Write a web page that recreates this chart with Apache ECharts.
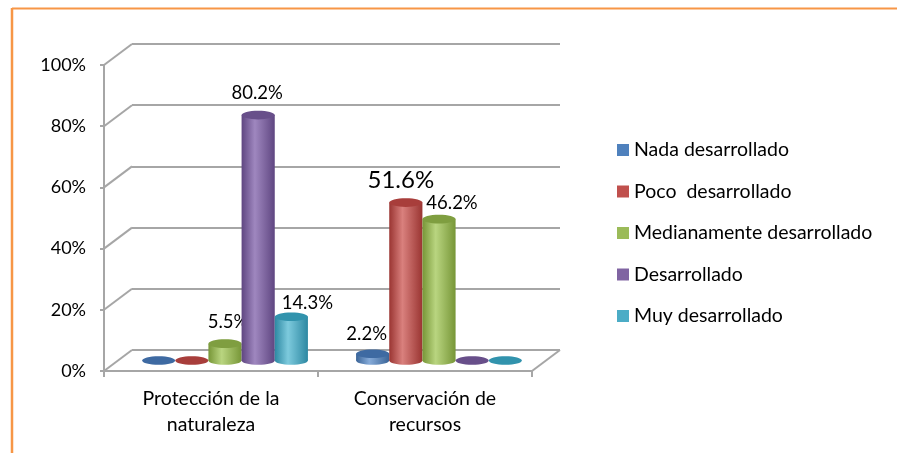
<!DOCTYPE html>
<html>
<head>
<meta charset="utf-8">
<title>Protección de la naturaleza / Conservación de recursos</title>
<script src="https://cdn.jsdelivr.net/npm/echarts@6/dist/echarts.min.js"></script>
<style>
  html, body { margin: 0; padding: 0; background: #fff; }
  #chart { width: 897px; height: 453px; }
</style>
</head>
<body>
<div id="chart"></div>
<script>
// datos
var categories = ['Protección de la\nnaturaleza', 'Conservación de\nrecursos'];
var seriesNames = ['Nada desarrollado', 'Poco  desarrollado', 'Medianamente desarrollado', 'Desarrollado', 'Muy desarrollado'];
var nada = [0, 2.2];
var poco = [0, 51.6];
var mediana = [5.5, 46.2];
var desarrollado = [80.2, 0];
var muy = [14.3, 0];
var yTicks = [0, 20, 40, 60, 80, 100];

var seriesValues = [nada, poco, mediana, desarrollado, muy];

// colores estilo Office 2007
var palette = [
  { base: '#4f81bd', light: '#86abd9', dark: '#3a6497', top: '#3e6aa2' },
  { base: '#c0504d', light: '#d9807d', dark: '#9a3532', top: '#a83e3b' },
  { base: '#9bbb59', light: '#b9d580', dark: '#779637', top: '#7f9e40' },
  { base: '#8064a2', light: '#9f87bf', dark: '#5f4681', top: '#684f8a' },
  { base: '#4bacc6', light: '#7dcadd', dark: '#2d88a2', top: '#3193ad' }
];

// desplazamiento de las etiquetas [dx, dy, tamaño]
var labelNudge = {
  '0-1': [-6, -20, 18.5],
  '1-1': [-5, -22, 24],
  '2-0': [3, -22, 18.5],
  '2-1': [13, -16, 18.5],
  '3-0': [-1, -22, 18.5],
  '4-0': [16, -14, 18.5]
};

var FONT = 'Lato, "Noto Sans", sans-serif';
var GRID_COLOR = '#a6a6a6';
var front = { left: 104, top: 65, right: 365, bottom: 82 };
var depth = [28, -21];

function shift(g, k) {
  return {
    left: g.left + depth[0] * k,
    right: g.right - depth[0] * k,
    top: g.top + depth[1] * k,
    bottom: g.bottom - depth[1] * k
  };
}

function cylinder(si) {
  return function (params, api) {
    var v = api.value(1);
    var base = api.coord([api.value(0), 0]);
    var top = api.coord([api.value(0), v]);
    var w = api.size([1, 0])[0] * 0.155;
    var cx = base[0] + (si - 2) * w;
    var rx = w / 2, ry = w * 0.13;
    var c = palette[si];
    var kids = [];
    if (v <= 0) {
      kids.push({ type: 'ellipse', shape: { cx: cx, cy: base[1], rx: rx, ry: ry }, style: { fill: c.top } });
      return { type: 'group', children: kids };
    }
    var grad = new echarts.graphic.LinearGradient(0, 0, 1, 0, [
      { offset: 0, color: c.dark },
      { offset: 0.4, color: c.light },
      { offset: 1, color: c.dark }
    ]);
    kids.push({ type: 'ellipse', shape: { cx: cx, cy: base[1], rx: rx, ry: ry }, style: { fill: grad } });
    kids.push({ type: 'rect', shape: { x: cx - rx, y: top[1], width: w, height: base[1] - top[1] }, style: { fill: grad } });
    kids.push({ type: 'ellipse', shape: { cx: cx, cy: top[1], rx: rx, ry: ry }, style: { fill: c.top } });
    var n = labelNudge[si + '-' + params.dataIndex] || [0, -20, 18];
    kids.push({
      type: 'text',
      x: cx + n[0],
      y: top[1] + n[1],
      style: {
        text: v.toFixed(1) + '%',
        fill: '#000',
        fontSize: n[2],
        fontFamily: FONT,
        align: 'center',
        verticalAlign: 'middle'
      }
    });
    return { type: 'group', children: kids };
  };
}

var myChart = echarts.init(document.getElementById('chart'));

var series = [{
  type: 'custom',
  xAxisIndex: 1,
  yAxisIndex: 1,
  silent: true,
  data: yTicks.map(function (t) { return [0, t]; }).concat([[1, 0]]),
  renderItem: function (params, api) {
    var p = api.coord([api.value(0), api.value(1)]);
    return {
      type: 'line',
      shape: { x1: p[0], y1: p[1], x2: p[0] - depth[0], y2: p[1] - depth[1] },
      style: { stroke: GRID_COLOR, lineWidth: 2 }
    };
  }
}];

seriesNames.forEach(function (name, i) {
  series.push({
    name: name,
    type: 'custom',
    xAxisIndex: 2,
    yAxisIndex: 2,
    itemStyle: { color: palette[i].base },
    encode: { x: 0, y: 1 },
    data: seriesValues[i].map(function (v, k) { return [k, v]; }),
    renderItem: cylinder(i)
  });
});

var option = {
  animation: false,
  textStyle: { fontFamily: FONT },
  grid: [front, shift(front, 1), shift(front, 0.5)],
  graphic: [
    { type: 'line', shape: { x1: 12, y1: 8.5, x2: 897, y2: 8.5 }, style: { stroke: '#f79646', lineWidth: 2 } },
    { type: 'line', shape: { x1: 12, y1: 8, x2: 12, y2: 453 }, style: { stroke: '#f79646', lineWidth: 2.5 } }
  ],
  legend: {
    orient: 'vertical',
    left: 612,
    top: 135,
    itemWidth: 12,
    itemHeight: 12,
    itemGap: 21.5,
    icon: 'rect',
    data: seriesNames,
    textStyle: { fontSize: 19.5, color: '#000', fontFamily: FONT }
  },
  xAxis: [{
    gridIndex: 0,
    type: 'category',
    data: categories,
    axisLine: { lineStyle: { color: GRID_COLOR, width: 2 } },
    axisTick: { show: true, length: 6, lineStyle: { color: GRID_COLOR, width: 2 } },
    axisLabel: { color: '#000', fontSize: 19.5, lineHeight: 26, margin: 15, fontFamily: FONT }
  }, {
    gridIndex: 1,
    type: 'value',
    min: 0,
    max: 1,
    show: false
  }, {
    gridIndex: 2,
    type: 'category',
    data: categories,
    show: false
  }],
  yAxis: [{
    gridIndex: 0,
    type: 'value',
    min: 0,
    max: 100,
    interval: 20,
    axisLine: { show: true, lineStyle: { color: GRID_COLOR, width: 2 } },
    axisTick: { show: true, length: 4, lineStyle: { color: GRID_COLOR, width: 2 } },
    axisLabel: { formatter: '{value}%', color: '#000', fontSize: 18, margin: 18, fontFamily: FONT },
    splitLine: { show: false }
  }, {
    gridIndex: 1,
    type: 'value',
    min: 0,
    max: 100,
    interval: 20,
    axisLine: { show: false },
    axisTick: { show: false },
    axisLabel: { show: false },
    splitLine: { show: true, lineStyle: { color: GRID_COLOR, width: 2 } }
  }, {
    gridIndex: 2,
    type: 'value',
    min: 0,
    max: 100,
    interval: 20,
    show: false
  }],
  series: series
};
myChart.setOption(option);
</script>
</body>
</html>
